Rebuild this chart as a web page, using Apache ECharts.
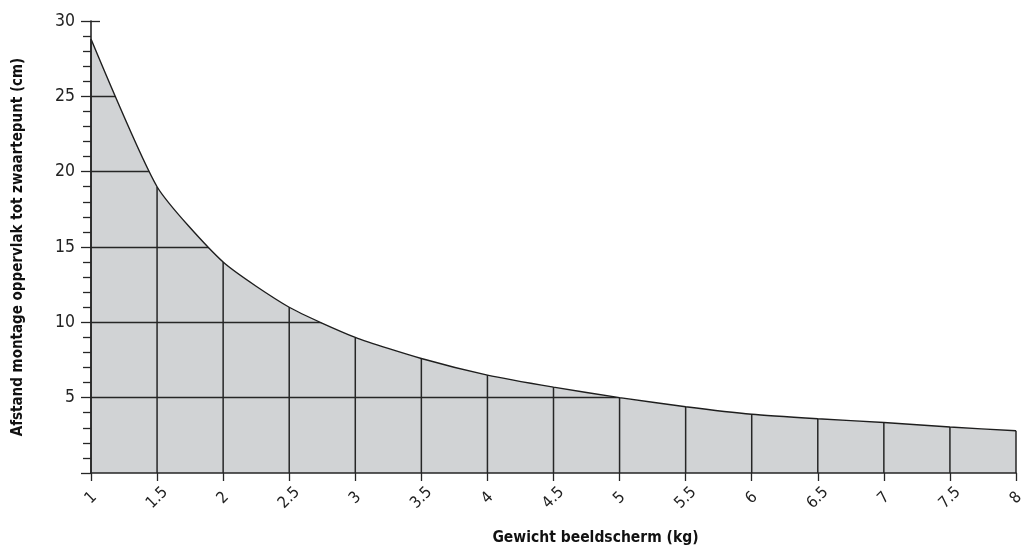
<!DOCTYPE html>
<html><head><meta charset="utf-8">
<script src="https://cdn.jsdelivr.net/npm/echarts@6/dist/echarts.min.js"></script>
<style>html,body{margin:0;padding:0;background:#fff}#c{width:1023px;height:550px}</style>
</head><body><div id="c"></div>
<script>
// Data
const weights = [1, 1.5, 2, 2.5, 3, 3.5, 4, 4.5, 5, 5.5, 6, 6.5, 7, 7.5, 8];
const distances = [28.8, 19, 14, 11, 9, 7.6, 6.5, 5.7, 5, 4.4, 3.9, 3.6, 3.35, 3.05, 2.8];
const xTitle = 'Gewicht beeldscherm (kg)';
const yTitle = 'Afstand montage oppervlak tot zwaartepunt (cm)';

const FONT = "'DejaVu Sans Condensed', 'Liberation Sans Narrow', sans-serif";
const points = weights.map((w, i) => [w, distances[i]]);
const INK = '#262626';

const chart = echarts.init(document.getElementById('c'), null, {renderer: 'canvas'});
chart.setOption({
  animation: false,
  backgroundColor: '#fff',
  grid: [
    {left: 91, right: 7, top: 21, bottom: 77, containLabel: false, outerBoundsMode: 'none'},
    // helper grid for horizontal grid lines only (slightly shorter, hidden by the mask)
    {left: 91, right: 12, top: 21, bottom: 77, containLabel: false, outerBoundsMode: 'none'}
  ],
  xAxis: [{
    type: 'value', min: 1, max: 8, interval: 0.5, z: 10, gridIndex: 0,
    axisLine: {show: true, onZero: false, lineStyle: {color: INK, width: 1.6}},
    axisTick: {show: true, length: 8, lineStyle: {color: INK, width: 1.3}},
    axisLabel: {rotate: 45, margin: 25, align: 'center', verticalAlign: 'middle',
      color: '#222', fontFamily: FONT, fontSize: 16},
    splitLine: {show: false},
    name: xTitle, nameLocation: 'middle', nameGap: 57,
    nameTextStyle: {fontFamily: FONT, fontWeight: 'bold', fontSize: 15.5, color: '#111',
      padding: [0, 0, 0, 84]}
  }, {
    type: 'value', min: 1, max: 8, gridIndex: 1, show: false
  }],
  yAxis: [{
    type: 'value', min: 0, max: 30, interval: 5, z: 10, position: 'left', gridIndex: 0,
    axisLine: {show: true, onZero: false, lineStyle: {color: INK, width: 1.6}},
    axisTick: {show: true, length: 10, lineStyle: {color: INK, width: 1.3}},
    minorTick: {show: true, splitNumber: 5, length: 8, lineStyle: {color: INK, width: 1.3}},
    axisLabel: {margin: 16, color: '#222', fontFamily: FONT, fontSize: 17.5,
      formatter: v => (v === 0 ? '' : String(v))},
    splitLine: {show: false},
    name: yTitle, nameLocation: 'middle', nameGap: 65,
    nameTextStyle: {fontFamily: FONT, fontWeight: 'bold', fontSize: 15, color: '#111'}
  }, {
    // grid lines only (drawn below the white mask)
    type: 'value', min: 0, max: 30, interval: 5, z: 2, gridIndex: 1,
    axisLine: {show: false}, axisTick: {show: false}, axisLabel: {show: false},
    splitLine: {show: true, showMinLine: false, showMaxLine: false, lineStyle: {color: INK, width: 1.4}}
  }],
  series: [{
    // grey fill under the curve
    type: 'line', data: points, z: 1, smooth: 0.2,
    symbol: 'none', lineStyle: {width: 0}, areaStyle: {color: '#d1d3d5', opacity: 1}
  }, {
    // vertical grid lines from the axis up to the curve
    type: 'bar', data: points, z: 3, barWidth: 1.5, clip: false,
    itemStyle: {color: INK}, silent: true
  }, {
    // white mask above the curve hides the horizontal grid lines
    type: 'line', data: points, z: 4, smooth: 0.2,
    symbol: 'none', lineStyle: {width: 0}, areaStyle: {color: '#ffffff', opacity: 1, origin: 'end'}
  }, {
    // the curve itself
    type: 'line', data: points, z: 5, smooth: 0.2,
    symbol: 'none', lineStyle: {color: '#1e1e1e', width: 1.4},
    markLine: {silent: true, symbol: 'none', label: {show: false},
      lineStyle: {color: INK, width: 1.3, type: 'solid'},
      data: [[{coord: [1, 30]}, {coord: [1.068, 30]}]]}
  }]
});
</script></body></html>
